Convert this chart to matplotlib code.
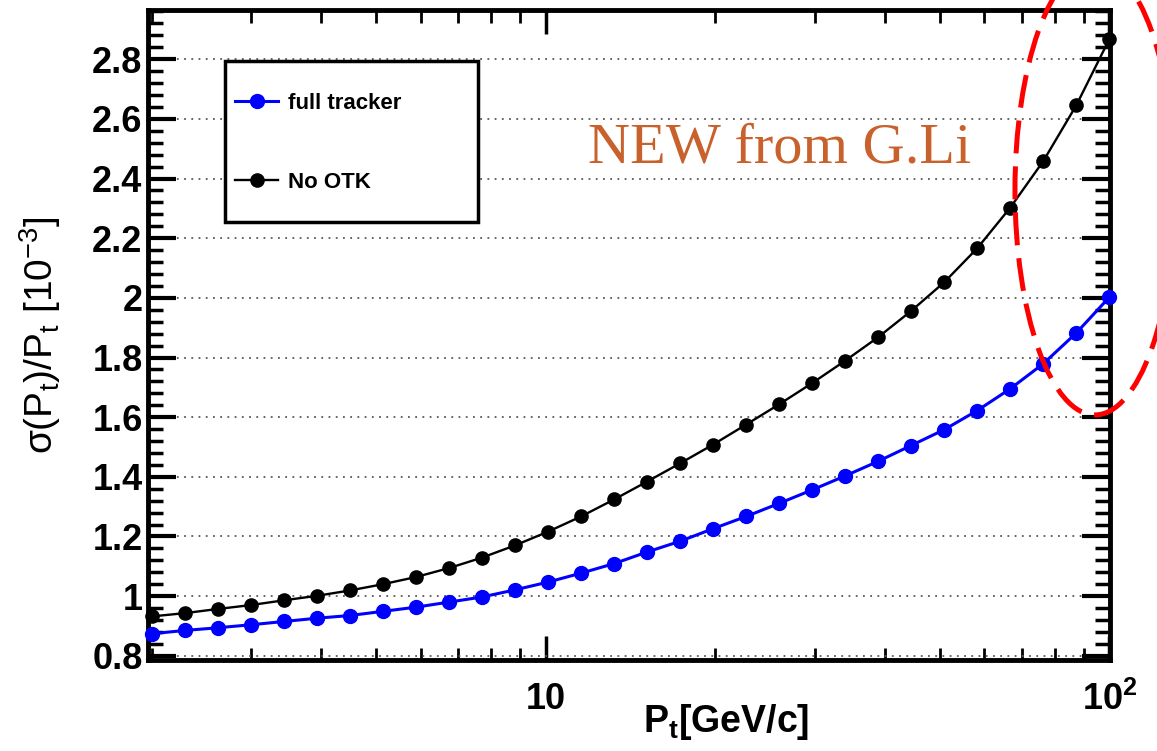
import matplotlib
matplotlib.use('Agg')
import matplotlib.pyplot as plt
from matplotlib.patches import Ellipse, Rectangle
from matplotlib.ticker import FixedLocator, LogLocator, NullFormatter, AutoMinorLocator

plt.rcParams['font.family'] = ['Liberation Sans', 'DejaVu Sans']
plt.rcParams['mathtext.fontset'] = 'custom'
plt.rcParams['mathtext.default'] = 'regular'

# Pt points (GeV/c), log spaced from 2 to 100
pt = [2.0, 2.289, 2.619, 2.997, 3.430, 3.925, 4.492, 5.141, 5.883, 6.733,
      7.705, 8.818, 10.09, 11.55, 13.22, 15.13, 17.31, 19.81, 22.67, 25.95,
      29.69, 33.98, 38.89, 44.50, 50.93, 58.29, 66.70, 76.34, 87.36, 100.0]

# sigma(Pt)/Pt in units of 1e-3
full_tracker = [0.874, 0.885, 0.894, 0.904, 0.915, 0.926, 0.935, 0.949, 0.963, 0.980,
                0.997, 1.021, 1.047, 1.077, 1.109, 1.148, 1.184, 1.226, 1.267, 1.311,
                1.356, 1.403, 1.452, 1.505, 1.558, 1.622, 1.695, 1.779, 1.882, 2.002]
no_otk = [0.932, 0.943, 0.957, 0.970, 0.986, 1.001, 1.019, 1.040, 1.064, 1.094,
          1.129, 1.170, 1.216, 1.267, 1.324, 1.384, 1.445, 1.508, 1.575, 1.643,
          1.714, 1.789, 1.868, 1.956, 2.052, 2.166, 2.302, 2.458, 2.645, 2.867]

y_ticks = [0.8, 1.0, 1.2, 1.4, 1.6, 1.8, 2.0, 2.2, 2.4, 2.6, 2.8]
y_tick_labels = ['0.8', '1', '1.2', '1.4', '1.6', '1.8', '2', '2.2', '2.4', '2.6', '2.8']
x_ticks = [10, 100]
x_tick_labels = ['10', '10$^{2}$']

fig = plt.figure(figsize=(11.57, 7.51), dpi=100)
ax = fig.add_axes([0.128, 0.1212, 0.8314, 0.8655])

ax.plot(pt, full_tracker, color='#0000ff', lw=2.2, marker='o', ms=10,
        label='full tracker', clip_on=False, zorder=3)
ax.plot(pt, no_otk, color='black', lw=1.7, marker='o', ms=9.5,
        label='No OTK', clip_on=False, zorder=3)

ax.set_xscale('log')
ax.set_xlim(1.97, 100.3)
ax.set_ylim(0.786, 2.965)

ax.xaxis.set_major_locator(FixedLocator(x_ticks))
ax.set_xticklabels(x_tick_labels)
ax.xaxis.set_minor_locator(LogLocator(base=10, subs=range(2, 10)))
ax.xaxis.set_minor_formatter(NullFormatter())
ax.yaxis.set_major_locator(FixedLocator(y_ticks))
ax.set_yticklabels(y_tick_labels)
ax.yaxis.set_minor_locator(AutoMinorLocator(5))

ax.tick_params(which='both', direction='in', top=True, right=True)
ax.tick_params(axis='y', which='major', length=20, width=3, labelsize=26, pad=4)
ax.tick_params(axis='y', which='minor', length=11, width=2.5)
ax.tick_params(axis='x', which='major', length=17, width=2.5, labelsize=26, pad=16)
ax.tick_params(axis='x', which='minor', length=9, width=2)
for lab in ax.get_xticklabels() + ax.get_yticklabels():
    lab.set_fontweight('bold')

for sp in ax.spines.values():
    sp.set_linewidth(3.5)

ax.set_axisbelow(True)
ax.yaxis.grid(True, which='major', linestyle=(0, (1, 3)), color='0.35', lw=1.3)

ax.set_xlabel('P$_{t}$[GeV/c]', fontsize=27, fontweight='bold', va='center')
ax.xaxis.set_label_coords(0.601, -0.095)
ax.set_ylabel('σ(P$_{t}$)/P$_{t}$ [10$^{-3}$]', fontsize=28, va='center')
ax.yaxis.set_label_coords(-0.112, 0.50)

# legend box
ax.add_patch(Rectangle((0.080, 0.6738), 0.263, 0.2477, transform=ax.transAxes,
                       fill=True, facecolor='white', edgecolor='black', lw=2.5, zorder=4))
leg = ax.legend(loc='upper left', bbox_to_anchor=(0.0904, 0.872), frameon=False,
                prop={'weight': 'bold', 'size': 16}, handlelength=1.95,
                handletextpad=0.45, labelspacing=2.6, borderpad=0, borderaxespad=0)
leg.set_zorder(5)

fig.text(0.674, 0.783, 'NEW from G.Li', fontsize=42, family='Liberation Serif',
         color='#c8612c', ha='center', va='baseline')

fig.add_artist(Ellipse((0.9464, 0.747), 0.1383, 0.599, transform=fig.transFigure,
                       fill=False, edgecolor='#ff0000', lw=3.6,
                       linestyle=(0, (6.6, 2.6)), zorder=10))

fig.savefig('out.png', dpi=100)
